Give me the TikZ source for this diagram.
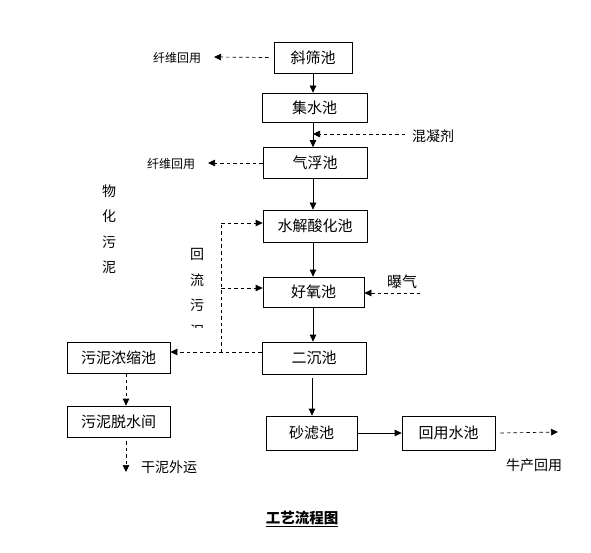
\documentclass[tikz,border=0pt]{standalone}
\usepackage{fontspec}
\setmainfont{Noto Sans CJK SC}
\usepackage{tikz}
\usetikzlibrary{arrows.meta}

\tikzset{
  pool/.style={draw,minimum height=31pt,inner sep=0pt,font=\fontsize{15}{18}\selectfont},
  flow/.style={-{Triangle[length=7pt,width=6.5pt]}},
  dflow/.style={flow,dash pattern=on 3.5pt off 3pt},
  side/.style={inner sep=0pt,font=\fontsize{14}{17}\selectfont},
  vtext/.style={inner sep=0pt,align=center,font=\fontsize{14}{25.5}\selectfont}
}

\begin{document}
\begin{tikzpicture}[x=1pt,y=-1pt,line width=0.7pt]
  \useasboundingbox (0,0) rectangle (591,553);
  % main line
  \node[pool,minimum width=78pt]  (xsc) at (313,57.5)  {斜筛池};
  \node[pool,minimum width=105pt,minimum height=29pt] (jsc) at (314.5,107.5) {集水池};
  \node[pool,minimum width=104pt] (qfc) at (315,163)   {气浮池};
  \node[pool,minimum width=104pt,minimum height=32pt] (sjc) at (315,226) {水解酸化池};
  \node[pool,minimum width=101pt,minimum height=30pt] (hyc) at (313.5,292) {好氧池};
  \node[pool,minimum width=104pt,minimum height=32pt] (ecc) at (314,358) {二沉池};
  \node[pool,minimum width=91pt,minimum height=34pt]  (slc) at (311.5,433) {砂滤池};
  \node[pool,minimum width=93pt,minimum height=34pt]  (hys) at (448.5,433) {回用水池};
  % sludge line
  \node[pool,minimum width=103pt] (wnc) at (118.5,357.5) {污泥浓缩池};
  \node[pool,minimum width=103pt] (wtj) at (118.5,421.5) {污泥脱水间};

  % labels
  \node[side,font=\fontsize{12}{14}\selectfont] (xw1) at (177,58)  {纤维回用};
  \node[side,font=\fontsize{12}{14}\selectfont] (xw2) at (171,164) {纤维回用};
  \node[side] (hnj) at (433,136) {混凝剂};
  \node[side,font=\fontsize{15}{18}\selectfont] (bq) at (402,282) {曝气};
  \node[side] (gnw) at (169,467) {干泥外运};
  \node[side] (scy) at (534,465) {牛产回用};
  \node[vtext] (whwn) at (109,229) {物\\化\\污\\泥};
  \begin{scope}
    \clip (180,240) rectangle (215,327);
    \node[vtext] (hlwn) at (197,293) {回\\流\\污\\泥};
  \end{scope}
  \node[inner sep=0pt,font=\fontsize{14.5}{17}\selectfont\bfseries] (title) at (302,519)
      {\underline{工艺流程图}};

  \coordinate (hnjin) at (405,134);
  \coordinate (bqin)  at (420,293);
  \coordinate (gnout) at (126,472);
  \coordinate (scout) at (558,432);
  \coordinate (hl)    at (221,352);

  % solid flow
  \draw[flow] (xsc) -- (xsc.south |- jsc.north);
  \draw[flow] (jsc.south -| 313,0) -- (313,0 |- qfc.north);
  \draw[flow] (qfc.south -| 313,0) -- (313,0 |- sjc.north);
  \draw[flow] (sjc.south -| 313,0) -- (313,0 |- hyc.north);
  \draw[flow] (hyc.south -| 313,0) -- (313,0 |- ecc.north);
  \draw[flow] (ecc.south -| 312,0) ++(0,4) -- (312,0 |- slc.north);
  \draw[flow] (slc) -- (hys);

  % dashed flow
  \draw[dflow] (xsc.west) ++(-5,0) -- (214,57);
  \draw[dflow] (qfc.west) -- (208,163);
  \draw[dflow] (hnjin) -- (hnjin -| 313,0);
  \draw[dflow] (bqin) -- (bqin -| hyc.east);
  \draw[dflow] (ecc.west |- hl) -- (wnc.east |- hl);
  \draw[dash pattern=on 3.5pt off 3pt] (hl) -- (221,223);
  \draw[dflow] (221,223) -- (sjc.west |- 0,223);
  \draw[dflow] (221,288) -- (hyc.west |- 0,288);
  \draw[dflow] (wnc.south -| 126,0) -- (126,0 |- wtj.north);
  \draw[dflow] (wtj.south -| 126,0) ++(0,4) -- (gnout);
  \draw[dflow] (hys.east) ++(5,0) -- (scout);
\end{tikzpicture}
\end{document}
